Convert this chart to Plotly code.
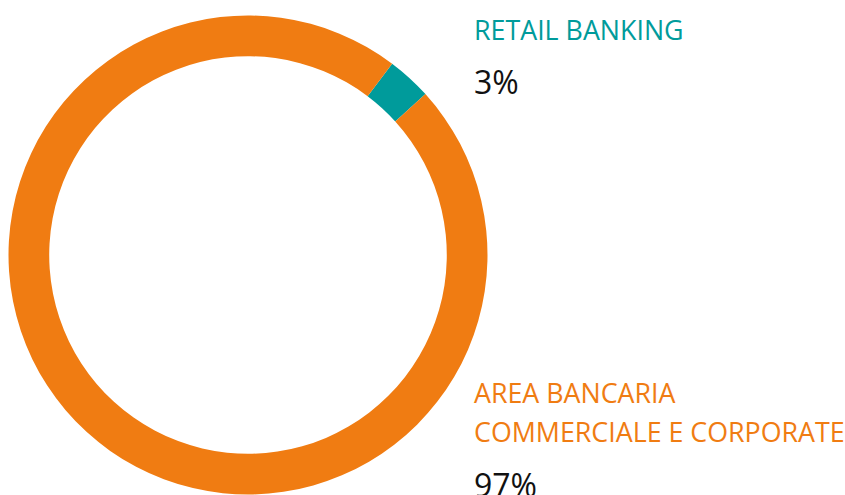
import plotly.graph_objects as go

labels = ["RETAIL BANKING", "AREA BANCARIA COMMERCIALE E CORPORATE"]
values = [3, 97]
pct_labels = ["3%", "97%"]
colors = ["#009B9B", "#F07C12"]

W, H = 845, 495
cx, cy, r = 248, 255, 239.5

fig = go.Figure(go.Pie(
    labels=labels,
    values=values,
    hole=0.83,
    sort=False,
    direction="clockwise",
    rotation=37,
    marker=dict(colors=colors, line=dict(width=0)),
    textinfo="none",
    hoverinfo="label+percent",
    domain=dict(x=[(cx - r) / W, (cx + r) / W], y=[1 - (cy + r) / H, 1 - (cy - r) / H]),
    showlegend=False,
))

font_name = "Open Sans"
x0 = 472 / W

def ann(text, ypix, size, color):
    fig.add_annotation(
        x=x0, y=1 - ypix / H, xref="paper", yref="paper",
        xanchor="left", yanchor="middle", showarrow=False,
        text=text, font=dict(family=font_name, size=size, color=color),
    )

ann(labels[0], 30, 26.8, colors[0])
ann(pct_labels[0], 82, 32, "#111111")
ann("AREA BANCARIA", 392, 26.8, colors[1])
ann("COMMERCIALE E CORPORATE", 431, 26.8, colors[1])
ann(pct_labels[1], 484, 32, "#111111")

fig.update_layout(
    width=W, height=H,
    margin=dict(l=0, r=0, t=0, b=0),
    paper_bgcolor="white", plot_bgcolor="white",
)

fig.write_html(
    "out.html",
    config={"displayModeBar": False},
    post_script="document.body.style.margin='0';document.body.style.overflow='hidden';",
)
